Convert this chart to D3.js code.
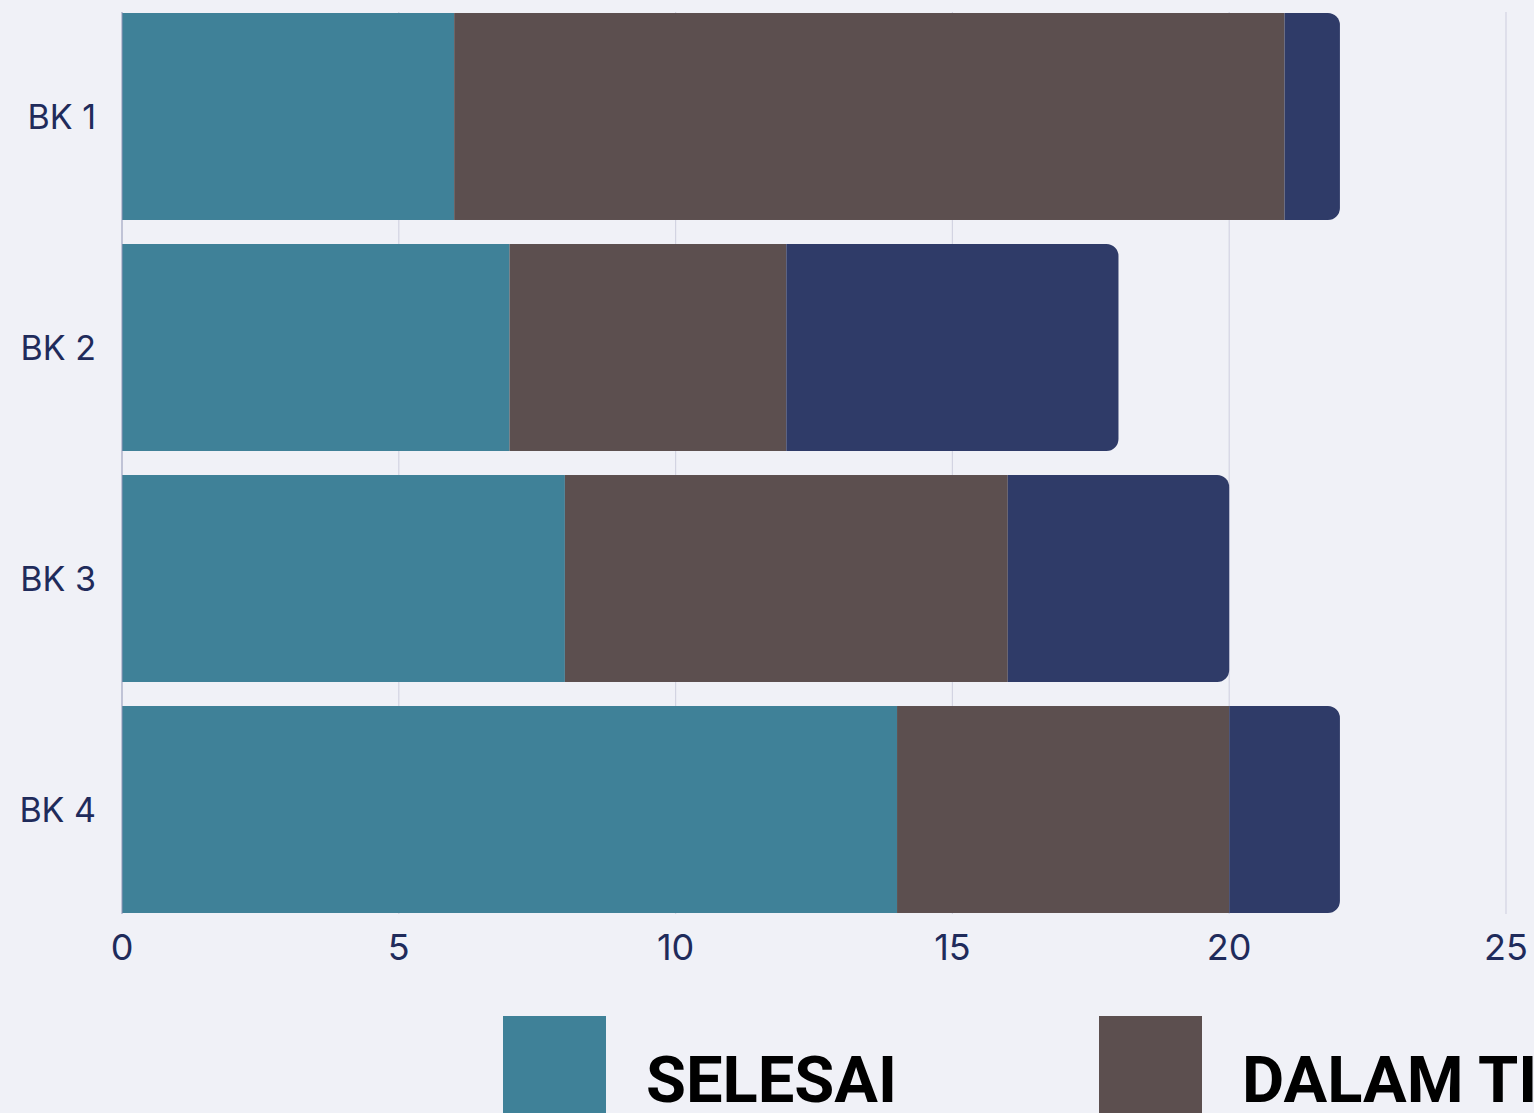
<!DOCTYPE html>
<html>
<head>
<meta charset="utf-8">
<script src="https://cdn.jsdelivr.net/npm/d3@7"></script>
<style>
  html, body { margin: 0; padding: 0; background: #f0f1f7; overflow: hidden; }
  svg { display: block; }
</style>
</head>
<body>
<svg id="chart" width="1534" height="1113"></svg>
<script>
const categories = ["BK 1", "BK 2", "BK 3", "BK 4"];
const seriesNames = ["SELESAI", "DALAM TINDAKAN", "BELUM SELESAI"];
const selesai = [6, 7, 8, 14];
const dalamTindakan = [15, 5, 8, 6];
const belumSelesai = [1, 6, 4, 2];
const xTicks = [0, 5, 10, 15, 20, 25];
const colors = ["#3f8198", "#5c4f4f", "#2f3b68"];

(function () {
const svg = d3.select("#chart");
const plotLeft = 122, plotRight = 1506, plotTop = 12, plotBottom = 914;

const x = d3.scaleLinear().domain([0, 25]).range([plotLeft, plotRight]);
const y = d3.scaleBand().domain(categories).range([1, 925]).paddingInner(0.104).paddingOuter(0.052);

// gridlines
svg.append("g").selectAll("line").data(xTicks.filter(d => d > 0)).join("line")
  .attr("x1", d => x(d)).attr("x2", d => x(d))
  .attr("y1", plotTop).attr("y2", plotBottom)
  .attr("stroke", "#d3d4e2").attr("stroke-width", 1.2);

const rows = categories.map((c, i) => ({ cat: c, vals: [selesai[i], dalamTindakan[i], belumSelesai[i]] }));

const rad = 12;
const g = svg.append("g");
rows.forEach(row => {
  let acc = 0;
  const y0 = y(row.cat), h = y.bandwidth();
  row.vals.forEach((v, k) => {
    const x0 = x(acc), x1 = x(acc + v);
    acc += v;
    const last = k === row.vals.length - 1;
    if (last) {
      const p = d3.path();
      p.moveTo(x0, y0);
      p.lineTo(x1 - rad, y0);
      p.arcTo(x1, y0, x1, y0 + rad, rad);
      p.lineTo(x1, y0 + h - rad);
      p.arcTo(x1, y0 + h, x1 - rad, y0 + h, rad);
      p.lineTo(x0, y0 + h);
      p.closePath();
      g.append("path").attr("d", p.toString()).attr("fill", colors[k]);
    } else {
      g.append("rect").attr("x", x0).attr("y", y0)
        .attr("width", x1 - x0).attr("height", h).attr("fill", colors[k]);
    }
  });
});

// left axis line
svg.append("line").attr("x1", plotLeft).attr("x2", plotLeft).attr("y1", plotTop).attr("y2", plotBottom)
  .attr("stroke", "#8f95b5").attr("stroke-width", 1);

// y labels
svg.append("g").selectAll("text").data(categories).join("text")
  .attr("x", 96).attr("y", d => y(d) + y.bandwidth() / 2)
  .attr("text-anchor", "end").attr("dominant-baseline", "central")
  .attr("font-family", "Inter, 'Open Sans', sans-serif").attr("font-size", 34)
  .attr("fill", "#1f2b5b").text(d => d);

// x tick labels
svg.append("g").selectAll("text").data(xTicks).join("text")
  .attr("x", d => x(d)).attr("y", 960)
  .attr("text-anchor", "middle")
  .attr("font-family", "Inter, 'Open Sans', sans-serif").attr("font-size", 36)
  .attr("fill", "#1f2b5b").text(d => d);

// legend
const legX = [503, 1099, 1695];
const lg = svg.append("g");
seriesNames.forEach((n, k) => {
  lg.append("rect").attr("x", legX[k]).attr("y", 1016).attr("width", 103).attr("height", 120).attr("fill", colors[k]);
  lg.append("text").attr("x", legX[k] + 143).attr("y", 1102)
    .attr("font-family", "Roboto, sans-serif").attr("font-weight", 700).attr("font-size", 65)
    .attr("fill", "#000").text(n);
});
})();
</script>
</body>
</html>
